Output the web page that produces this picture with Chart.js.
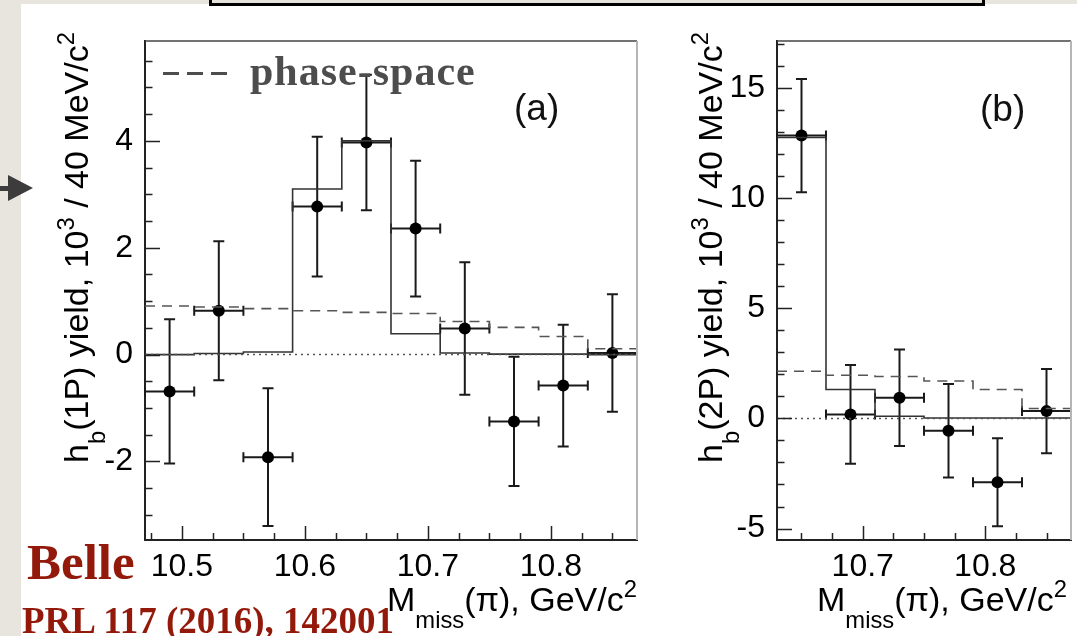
<!DOCTYPE html>
<html>
<head>
<meta charset="utf-8">
<script src="https://cdn.jsdelivr.net/npm/chart.js@4.4.1/dist/chart.umd.min.js"></script>
<style>
  html, body { margin: 0; padding: 0; }
  body { width: 1077px; height: 636px; overflow: hidden; position: relative; background: #e8e5df; font-family: 'Liberation Sans', Arial, sans-serif; }
  #paper { position: absolute; left: 21px; top: 4px; right: 0; bottom: 0; background: #fff; }
  #topbox { position: absolute; left: 209px; top: -4px; width: 776px; height: 10px; box-sizing: border-box; border: 3px solid #000; background: #e6e3dc; }
  canvas { position: absolute; }
  .txt { position: absolute; white-space: nowrap; line-height: 1; }
  .ytitle { font-size: 34px; color: #000; transform-origin: 0 0; transform: rotate(-90deg); }
  .xtitle { font-size: 34px; color: #000; text-align: right; }
  .lo { position: relative; top: 0.7em; font-size: 0.7em; }
  .hi { position: relative; top: -0.6em; font-size: 0.7em; }
  .serif { font-family: 'Liberation Serif', 'Times New Roman', serif; font-weight: bold; }
</style>
</head>
<body>
<div id="paper"></div>
<div id="topbox"></div>
<svg style="position:absolute;left:0;top:170px" width="40" height="36">
  <rect x="0" y="16" width="10" height="5" fill="#3c3c3c"/>
  <polygon points="8,5 33,18 8,31" fill="#3c3c3c"/>
</svg>

<canvas id="chartA" width="560" height="609" style="left:90px;top:1px"></canvas>
<canvas id="chartB" width="357" height="609" style="left:720px;top:1px"></canvas>

<div class="txt ytitle" style="left:59px;top:463px">h<span class="lo">b</span>(1P) yield, 10<span class="hi">3</span> / 40 MeV/c<span class="hi">2</span></div>
<div class="txt ytitle" style="left:693px;top:463px">h<span class="lo">b</span>(2P) yield, 10<span class="hi">3</span> / 40 MeV/c<span class="hi">2</span></div>
<div class="txt xtitle" style="left:337px;width:300px;top:582px">M<span class="lo">miss</span>(π), GeV/c<span class="hi">2</span></div>
<div class="txt xtitle" style="left:767px;width:300px;top:582px">M<span class="lo">miss</span>(π), GeV/c<span class="hi">2</span></div>

<div class="txt" style="left:163px;top:72px;width:64px;height:3px;background:repeating-linear-gradient(90deg,#4d4d4d 0 16px,transparent 16px 24px)"></div>
<div class="txt serif" style="left:250px;top:50px;font-size:42px;color:#4d4d4d;letter-spacing:1px">phase-space</div>
<div class="txt" style="left:514px;top:89px;font-size:37px;color:#111">(a)</div>
<div class="txt" style="left:980px;top:90px;font-size:37px;color:#111">(b)</div>

<div class="txt serif" style="left:27px;top:537px;font-size:51px;color:#931a0b">Belle</div>
<div class="txt serif" style="left:22px;top:602px;font-size:37px;color:#931a0b">PRL 117 (2016), 142001</div>

<script>
// bin centres (GeV/c^2), 40 MeV bins
const HALF_BIN = 0.02;
const massA = [10.49, 10.53, 10.57, 10.61, 10.65, 10.69, 10.73, 10.77, 10.81, 10.85];
const yieldA = [-0.69, 0.82, -1.92, 2.77, 3.97, 2.36, 0.49, -1.25, -0.58, 0.03];
const errA = [1.35, 1.30, 1.29, 1.31, 1.27, 1.27, 1.24, 1.21, 1.14, 1.10];
const fitA = [0.00, 0.02, 0.05, 3.10, 4.00, 0.39, 0.03, 0.01, 0.01, 0.00];
const phspA = [0.91, 0.89, 0.86, 0.82, 0.79, 0.77, 0.62, 0.51, 0.34, 0.11];

const massB = [10.65, 10.69, 10.73, 10.77, 10.81, 10.85];
const yieldB = [12.84, 0.18, 0.94, -0.56, -2.90, 0.33];
const errB = [2.57, 2.24, 2.19, 2.12, 2.00, 1.91];
const fitB = [12.75, 1.31, 0.10, 0.02, 0.02, 0.02];
const phspB = [2.14, 1.96, 1.90, 1.70, 1.31, 0.45];

const xTicksA = [10.5, 10.6, 10.7, 10.8];
const yTicksA = [-2, 0, 2, 4];
const xTicksB = [10.7, 10.8];
const yTicksB = [-5, 0, 5, 10, 15];

// step histogram: left bin edges + closing right edge
function steps(mass, vals) {
  const pts = mass.map((m, i) => ({x: m - HALF_BIN, y: vals[i]}));
  pts.push({x: mass[mass.length - 1] + HALF_BIN, y: vals[vals.length - 1]});
  return pts;
}

const errorBars = {
  id: 'errorBars',
  beforeDatasetDraw(chart, args) {
    const ds = chart.data.datasets[args.index];
    if (!ds.errorBars) return;
    const {ctx, scales: {x, y}} = chart;
    ctx.save();
    ctx.strokeStyle = '#1a1a1a';
    ctx.lineWidth = 2;
    ctx.beginPath();
    ds.data.forEach(p => {
      const px = x.getPixelForValue(p.x), py = y.getPixelForValue(p.y);
      const x0 = x.getPixelForValue(p.x - p.ex), x1 = x.getPixelForValue(p.x + p.ex);
      const y0 = y.getPixelForValue(p.y - p.ey), y1 = y.getPixelForValue(p.y + p.ey);
      ctx.moveTo(px, y0); ctx.lineTo(px, y1);
      ctx.moveTo(px - 5.5, y0); ctx.lineTo(px + 5.5, y0);
      ctx.moveTo(px - 5.5, y1); ctx.lineTo(px + 5.5, y1);
      ctx.moveTo(x0, py); ctx.lineTo(x1, py);
      ctx.moveTo(x0, py - 5); ctx.lineTo(x0, py + 5);
      ctx.moveTo(x1, py - 5); ctx.lineTo(x1, py + 5);
    });
    ctx.stroke();
    ctx.restore();
  }
};

// ROOT-style frame with inward ticks
const frameTicks = {
  id: 'frameTicks',
  afterDraw(chart, args, o) {
    const {ctx, chartArea: a, scales: {x, y}} = chart;
    ctx.save();
    ctx.lineWidth = 1.5;
    ctx.strokeStyle = '#444';
    ctx.beginPath(); ctx.moveTo(a.left, a.top); ctx.lineTo(a.right, a.top); ctx.stroke();
    ctx.strokeStyle = '#b5b5b5';
    ctx.lineWidth = 2;
    ctx.beginPath(); ctx.moveTo(a.right, a.top); ctx.lineTo(a.right, a.bottom); ctx.stroke();
    ctx.strokeStyle = '#222';
    ctx.lineWidth = 1.5;
    ctx.beginPath();
    const isMajor = (v, step) => Math.abs(v / step - Math.round(v / step)) < 1e-6;
    for (let k = Math.ceil(x.min / o.xMinor - 1e-9); k * o.xMinor <= x.max + 1e-9; k++) {
      const v = k * o.xMinor, px = Math.round(x.getPixelForValue(v)) + 0.5;
      const len = isMajor(v, o.xMajor) ? 14 : 7;
      ctx.moveTo(px, a.bottom); ctx.lineTo(px, a.bottom - len);
    }
    for (let k = Math.ceil(y.min / o.yMinor - 1e-9); k * o.yMinor <= y.max + 1e-9; k++) {
      const v = k * o.yMinor, py = Math.round(y.getPixelForValue(v)) + 0.5;
      const len = isMajor(v, o.yMajor) ? 15 : 7.5;
      ctx.moveTo(a.left, py); ctx.lineTo(a.left + len, py);
    }
    ctx.stroke();
    ctx.restore();
  }
};

function makePanel(id, mass, yields, errs, fit, phsp, xr, yr, xTicks, yTicks, yWidth, padRight, tickOpts) {
  const pts = mass.map((m, i) => ({x: m, y: yields[i], ey: errs[i], ex: HALF_BIN}));
  return new Chart(document.getElementById(id), {
    type: 'line',
    data: {
      datasets: [
        {data: [{x: xr[0], y: 0}, {x: xr[1], y: 0}], borderColor: '#555', borderWidth: 1.5, borderDash: [2, 4], pointRadius: 0},
        {data: steps(mass, phsp), stepped: true, borderColor: '#555', borderWidth: 1.6, borderDash: [10, 7], pointRadius: 0},
        {data: steps(mass, fit), stepped: true, borderColor: '#333', borderWidth: 1.6, pointRadius: 0},
        {data: pts, showLine: false, errorBars: true, pointRadius: 6, pointBackgroundColor: '#000', pointBorderWidth: 0}
      ]
    },
    options: {
      responsive: false,
      animation: false,
      layout: {padding: {top: 40, right: padRight, left: 0, bottom: 0}},
      plugins: {legend: {display: false}, tooltip: {enabled: false}, frameTicks: tickOpts},
      scales: {
        x: {
          type: 'linear', min: xr[0], max: xr[1],
          afterBuildTicks: s => { s.ticks = xTicks.map(v => ({value: v})); },
          afterFit: s => { s.height = 70; },
          grid: {display: false, drawTicks: false},
          border: {display: true, color: '#222', width: 2},
          ticks: {padding: 8, color: '#000', font: {family: 'Liberation Sans', size: 32}, maxRotation: 0, autoSkip: false, callback: v => v.toFixed(1)}
        },
        y: {
          type: 'linear', min: yr[0], max: yr[1],
          afterBuildTicks: s => { s.ticks = yTicks.map(v => ({value: v})); },
          afterFit: s => { s.width = yWidth; },
          grid: {display: false, drawTicks: false},
          border: {display: true, color: '#222', width: 2},
          ticks: {padding: 12, color: '#000', font: {family: 'Liberation Sans', size: 32}, autoSkip: false, callback: v => String(v)}
        }
      }
    },
    plugins: [errorBars, frameTicks]
  });
}

makePanel('chartA', massA, yieldA, errA, fitA, phspA, [10.47, 10.87], [-3.47, 5.87], xTicksA, yTicksA, 55, 13,
  {xMinor: 0.025, xMajor: 0.1, yMinor: 0.5, yMajor: 2});
makePanel('chartB', massB, yieldB, errB, fitB, phspB, [10.63, 10.87], [-5.52, 17.13], xTicksB, yTicksB, 57, 5,
  {xMinor: 0.025, xMajor: 0.1, yMinor: 1, yMajor: 5});
</script>
</body>
</html>
